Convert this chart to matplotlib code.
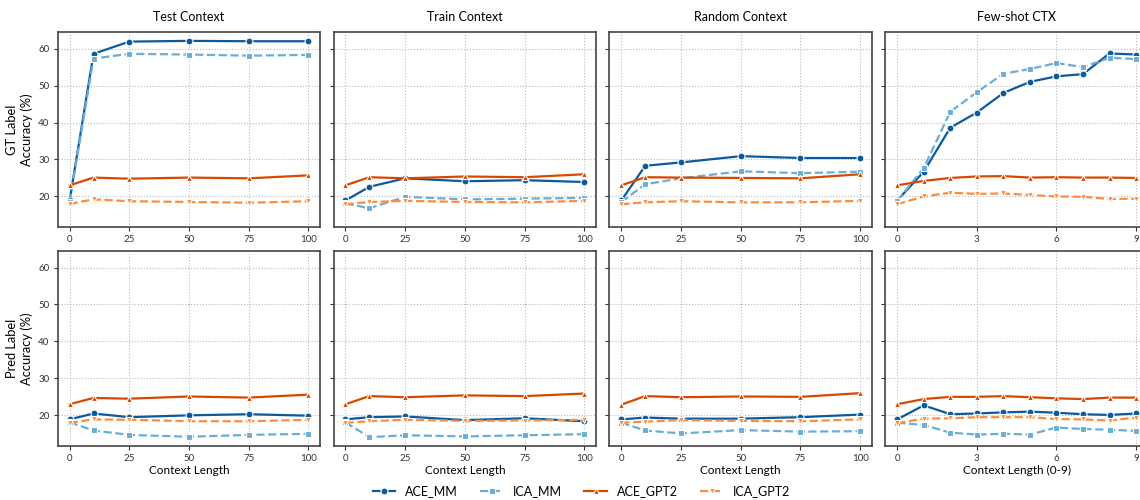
import numpy as np
import matplotlib
matplotlib.use("Agg")
import matplotlib.pyplot as plt

plt.rcParams['font.family'] = ['Lato', 'DejaVu Sans']

ctx_x = [0, 10, 25, 50, 75, 100]
shot_x = list(range(10))

panel_titles = ["Test Context", "Train Context", "Random Context", "Few-shot CTX"]
row_labels = ["GT Label\nAccuracy (%)", "Pred Label\nAccuracy (%)"]
series_names = ["ACE_MM", "ICA_MM", "ACE_GPT2", "ICA_GPT2"]

# GT label accuracy (top row)
gt_test = {
    "ACE_MM": [18.9, 58.6, 61.9, 62.1, 62.0, 62.0],
    "ICA_MM": [18.5, 57.3, 58.6, 58.4, 58.1, 58.3],
    "ACE_GPT2": [23.0, 25.1, 24.8, 25.1, 24.9, 25.7],
    "ICA_GPT2": [18.0, 19.2, 18.7, 18.5, 18.3, 18.7],
}
gt_train = {
    "ACE_MM": [18.9, 22.6, 24.9, 24.1, 24.4, 23.9],
    "ICA_MM": [18.1, 16.8, 19.9, 19.2, 19.4, 19.6],
    "ACE_GPT2": [23.0, 25.2, 24.9, 25.4, 25.2, 26.0],
    "ICA_GPT2": [17.9, 18.5, 18.8, 18.5, 18.4, 18.8],
}
gt_random = {
    "ACE_MM": [18.9, 28.3, 29.2, 30.9, 30.4, 30.4],
    "ICA_MM": [18.5, 23.3, 24.9, 26.8, 26.3, 26.7],
    "ACE_GPT2": [23.0, 25.2, 25.1, 25.0, 24.9, 26.0],
    "ICA_GPT2": [17.9, 18.4, 18.7, 18.4, 18.4, 18.8],
}
gt_fewshot = {
    "ACE_MM": [18.9, 26.7, 38.6, 42.7, 48.0, 51.0, 52.5, 53.1, 58.7, 58.4],
    "ICA_MM": [18.8, 27.7, 42.9, 48.2, 53.2, 54.5, 56.1, 55.0, 57.5, 57.2],
    "ACE_GPT2": [23.0, 24.2, 25.0, 25.4, 25.5, 25.1, 25.2, 25.1, 25.1, 25.0],
    "ICA_GPT2": [17.9, 20.0, 21.0, 20.7, 20.8, 20.4, 20.0, 19.9, 19.3, 19.4],
}

# Pred label accuracy (bottom row)
pred_test = {
    "ACE_MM": [18.9, 20.5, 19.5, 20.0, 20.3, 19.9],
    "ICA_MM": [18.1, 15.9, 14.7, 14.2, 14.7, 15.0],
    "ACE_GPT2": [23.0, 24.7, 24.5, 25.1, 24.8, 25.6],
    "ICA_GPT2": [18.0, 18.9, 18.8, 18.4, 18.4, 18.8],
}
pred_train = {
    "ACE_MM": [18.9, 19.5, 19.7, 18.7, 19.2, 18.4],
    "ICA_MM": [18.1, 14.1, 14.6, 14.3, 14.6, 14.9],
    "ACE_GPT2": [23.0, 25.2, 24.9, 25.4, 25.2, 25.9],
    "ICA_GPT2": [18.0, 18.4, 18.8, 18.5, 18.6, 18.8],
}
pred_random = {
    "ACE_MM": [18.9, 19.4, 19.1, 19.1, 19.5, 20.2],
    "ICA_MM": [18.0, 15.9, 15.1, 16.0, 15.6, 15.7],
    "ACE_GPT2": [22.9, 25.2, 24.9, 25.1, 25.0, 26.0],
    "ICA_GPT2": [18.0, 18.3, 18.7, 18.5, 18.4, 18.9],
}
pred_fewshot = {
    "ACE_MM": [18.9, 22.7, 20.3, 20.5, 20.8, 21.0, 20.7, 20.3, 20.1, 20.5],
    "ICA_MM": [18.0, 17.4, 15.3, 14.8, 15.0, 14.8, 16.7, 16.3, 16.1, 15.8],
    "ACE_GPT2": [23.0, 24.4, 25.0, 25.0, 25.2, 24.9, 24.6, 24.4, 24.8, 24.8],
    "ICA_GPT2": [17.9, 19.1, 19.2, 19.5, 19.5, 19.5, 19.0, 18.9, 18.6, 19.4],
}

styles = {
    "ACE_MM": dict(color="#0b5a9e", marker="o", ls="-"),
    "ICA_MM": dict(color="#6aaed6", marker="s", ls="--"),
    "ACE_GPT2": dict(color="#d94801", marker="^", ls="-"),
    "ICA_GPT2": dict(color="#fd8d3c", marker="v", ls="--"),
}

rows = [[gt_test, gt_train, gt_random, gt_fewshot],
        [pred_test, pred_train, pred_random, pred_fewshot]]

fig, axes = plt.subplots(2, 4, figsize=(11.4, 5), dpi=100, sharey=True)
fig.subplots_adjust(left=0.0506, right=1.007, top=0.936, bottom=0.108,
                    wspace=0.05, hspace=0.122)

for r in range(2):
    for c in range(4):
        ax = axes[r, c]
        data = rows[r][c]
        xs = shot_x if c == 3 else ctx_x
        for name in series_names:
            st = styles[name]
            ax.plot(xs, data[name], color=st["color"], marker=st["marker"], ls=st["ls"],
                    lw=1.6, ms=5, mec="white", mew=0.8, label=name)
        ax.grid(True, ls=":", color="#bbbbbb", lw=0.8)
        ax.set_axisbelow(True)
        for sp in ax.spines.values():
            sp.set_color("#444444")
            sp.set_linewidth(1.2)
        ax.tick_params(labelsize=7, colors="#333333", length=3, pad=3)
        if c == 3:
            ax.set_xticks([0, 3, 6, 9])
        else:
            ax.set_xticks([0, 25, 50, 75, 100])
        if r == 0:
            ax.set_title(panel_titles[c], fontsize=9, pad=8)
        else:
            ax.set_xlabel("Context Length (0-9)" if c == 3 else "Context Length", fontsize=8.5, labelpad=1)
        if c == 0:
            ax.set_ylabel(row_labels[r], fontsize=9.3, labelpad=4)

axes[0, 0].set_yticks([20, 30, 40, 50, 60])

handles, labels = axes[0, 0].get_legend_handles_labels()
fig.legend(handles, labels, loc="center", bbox_to_anchor=(0.51, 0.017), ncol=4,
           frameon=False, fontsize=9, columnspacing=1.8, handlelength=1.8)

fig.savefig("out.png", dpi=100)
